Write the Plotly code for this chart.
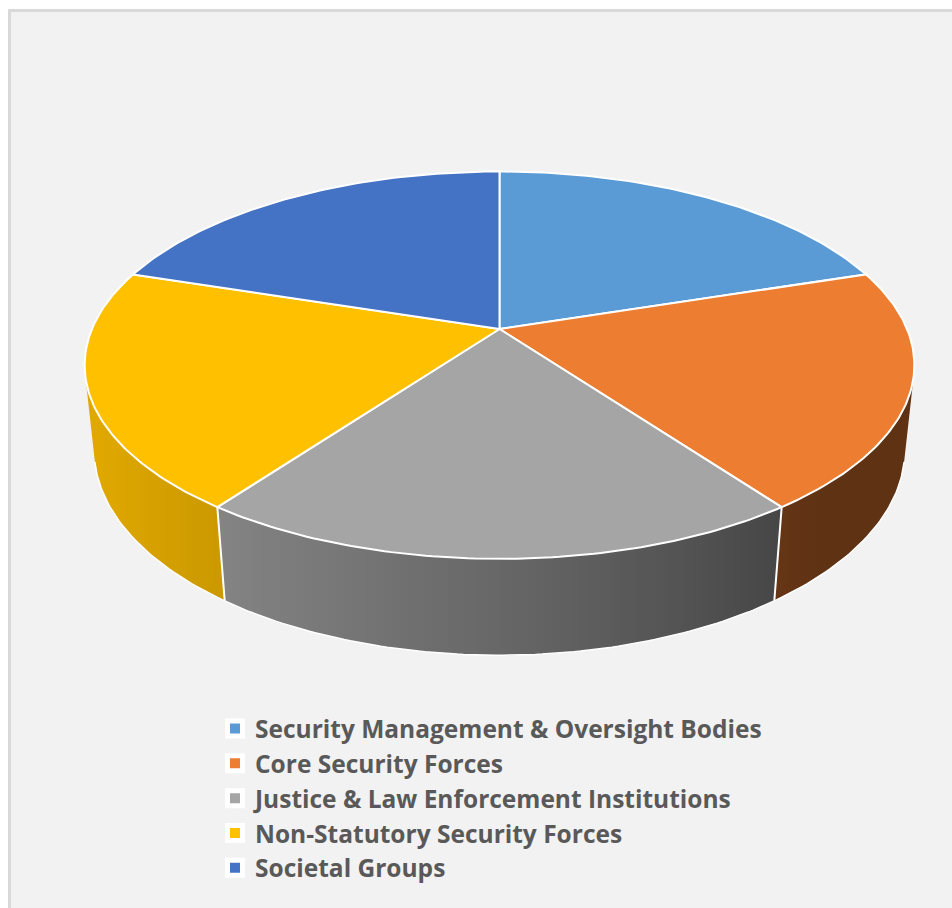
import numpy as np
import plotly.graph_objects as go

# ---------------- data ----------------
categories = [
    "Security Management & Oversight Bodies",
    "Core Security Forces",
    "Justice & Law Enforcement Institutions",
    "Non-Statutory Security Forces",
    "Societal Groups",
]
values = [20, 20, 20, 20, 20]
colors = ["#5B9BD5", "#ED7D31", "#A5A5A5", "#FFC000", "#4472C4"]

# ---------------- 3-D pie projection ----------------
W, H = 952, 908
CX, CY = 499.5, 329.0          # projected pie centre (pixels)
FOC = 1940.0                   # focal length
DIST = 4.76                    # camera distance (pie radius = 1)
TILT = np.radians(27.3)        # elevation of the camera
THICK = 0.237                  # pie thickness (radius units)


def proj(X, Y, Z):
    c, s = np.cos(TILT), np.sin(TILT)
    yup = Y * c - Z * s
    depth = DIST - (Z * c + Y * s)
    return CX + FOC * X / depth, CY - FOC * yup / depth


def rim(theta, y):
    return proj(np.sin(theta), y, -np.cos(theta))


def hex2rgb(h):
    h = h.lstrip("#")
    return [int(h[i:i + 2], 16) for i in (0, 2, 4)]


def shade(hexcol, theta):
    f = 0.57 + 0.32 * np.cos(theta - np.radians(260))
    f = max(0.40, min(0.92, f))
    r, g, b = hex2rgb(hexcol)
    return f"rgb({int(r * f)},{int(g * f)},{int(b * f)})"


vals = np.array(values, dtype=float)
bounds = np.concatenate([[0], np.cumsum(vals)]) / vals.sum() * 2 * np.pi

th_s = np.arccos(-1.0 / (DIST * np.cos(TILT)))      # side silhouette angle
th_e = 2 * np.pi - th_s

fig = go.Figure()

# ---- side walls ----
for i in range(len(values)):
    lo, hi = max(bounds[i], th_s), min(bounds[i + 1], th_e)
    if hi <= lo:
        continue
    t = np.linspace(lo, hi, 80)
    xt, yt = rim(t, 0.0)
    xb, yb = rim(t[::-1], -THICK)
    xs = np.concatenate([xt, xb, xt[:1]])
    ys = np.concatenate([yt, yb, yt[:1]])
    # horizontal gradient from lighting model
    ts = np.linspace(lo, hi, 12)
    xts, _ = rim(ts, 0.0)
    x0, x1 = xts.min(), xts.max()
    order = np.argsort(xts)
    cs = [[float((xts[k] - x0) / (x1 - x0)), shade(colors[i], ts[k])] for k in order]
    cs[0][0] = 0.0
    cs[-1][0] = 1.0
    fig.add_trace(go.Scatter(
        x=xs, y=ys, mode="lines", fill="toself",
        line=dict(width=0, color="rgba(0,0,0,0)"),
        fillgradient=dict(type="horizontal", colorscale=cs, start=x0, stop=x1),
        hoverinfo="skip", showlegend=False))

# white edges of the walls (bottom rim + vertical seams)
t = np.linspace(th_s, th_e, 200)
xb, yb = rim(t, -THICK)
fig.add_trace(go.Scatter(x=xb, y=yb, mode="lines", line=dict(color="white", width=1.5),
                         hoverinfo="skip", showlegend=False))
for b in bounds[1:-1]:
    if th_s < b < th_e:
        xa, ya = rim(np.array([b, b]), np.array([0.0, -THICK]))
        fig.add_trace(go.Scatter(x=xa, y=ya, mode="lines", line=dict(color="white", width=2),
                                 hoverinfo="skip", showlegend=False))

# ---- top faces ----
cx0, cy0 = proj(0.0, 0.0, 0.0)
for i in range(len(values)):
    t = np.linspace(bounds[i], bounds[i + 1], 90)
    xt, yt = rim(t, 0.0)
    xs = np.concatenate([[cx0], xt, [cx0]])
    ys = np.concatenate([[cy0], yt, [cy0]])
    fig.add_trace(go.Scatter(
        x=xs, y=ys, mode="lines", fill="toself", fillcolor=colors[i],
        line=dict(color="white", width=2), name=categories[i],
        hovertemplate=f"{categories[i]}: {values[i]}<extra></extra>",
        showlegend=False))

# ---- legend entries ----
for i in range(len(values)):
    fig.add_trace(go.Scatter(
        x=[-1000], y=[-1000], mode="markers", name=categories[i],
        marker=dict(symbol="square", size=15, color=colors[i],
                    line=dict(color="white", width=5)),
        hoverinfo="skip", showlegend=True))

fig.update_layout(
    width=W, height=H, autosize=False,
    margin=dict(l=0, r=0, t=0, b=0),
    paper_bgcolor="white", plot_bgcolor="rgba(0,0,0,0)",
    xaxis=dict(range=[0, W], visible=False, fixedrange=True),
    yaxis=dict(range=[H, 0], visible=False, fixedrange=True),
    shapes=[dict(type="rect", xref="paper", yref="paper", layer="below",
                 x0=9.5 / W, x1=1.05, y0=-0.05, y1=1 - 10.5 / H,
                 line=dict(color="#D9D9D9", width=3), fillcolor="#F2F2F2")],
    legend=dict(x=215 / W, y=1 - 706 / H, xanchor="left", yanchor="top",
                bgcolor="rgba(0,0,0,0)", traceorder="normal",
                font=dict(family="Open Sans", size=24.5, color="#595959", weight="bold")),
)

fig.write_html("out.html", config={"displayModeBar": False})
